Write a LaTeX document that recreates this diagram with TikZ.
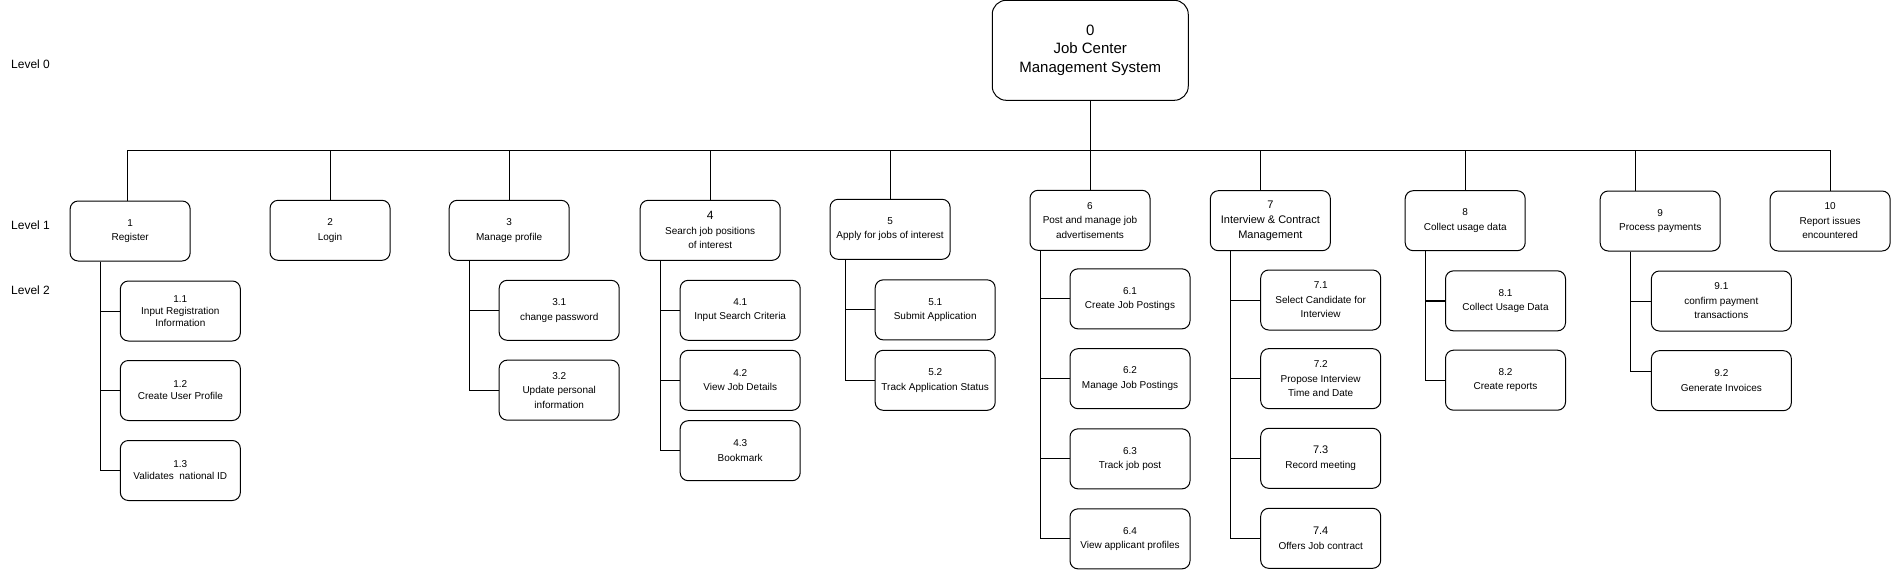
\documentclass[tikz,border=0pt]{standalone}
\usepackage{fontspec}
\setmainfont{Liberation Sans}
\begin{document}
\begin{tikzpicture}[x=1pt,y=-1pt,
  box/.style={draw=black, line width=1pt, rounded corners=8pt, minimum width=120pt, minimum height=60pt, align=center, inner sep=1pt, font=\fontsize{10}{14.5}\selectfont, text=black},
  wide/.style={minimum width=140pt},
  tight/.style={font=\fontsize{10}{12}\selectfont},
  link/.style={draw=black, line width=0.9pt},
  lvl/.style={anchor=west, inner sep=0pt, font=\fontsize{12}{14}\selectfont}]
\useasboundingbox (0,0) rectangle (1891,570);

% level labels
\node[lvl] (l0) at (11,64) {Level 0};
\node[lvl] (l1) at (11,225.7) {Level 1};
\node[lvl] (l2) at (11,290) {Level 2};

% root
\node[box, minimum width=196pt, minimum height=100pt, rounded corners=14pt, font=\fontsize{15}{18.3}\selectfont] (b0) at (1090.25,50.3) {0\\Job Center\\Management System};

% level 1
\node[box] (b1) at (130.15,231) {1\\Register};
\node[box] (b2) at (330.05,230.3) {2\\Login};
\node[box] (b3) at (509.2,230.3) {3\\Manage profile};
\node[box, wide] (b4) at (710.2,230.3) {{\fontsize{12}{14.5}\selectfont 4}\\Search job positions\\of interest};
\node[box] (b5) at (890.1,229.3) {5\\Apply for jobs of interest};
\node[box] (b6) at (1090,220.3) {6\\Post and manage job\\advertisements};
\node[box, font=\fontsize{11}{15}\selectfont] (b7) at (1270.35,220.7) {7\\Interview \& Contract\\Management};
\node[box] (b8) at (1465.2,220.7) {8\\Collect usage data};
\node[box] (b9) at (1660.2,221) {9\\Process payments};
\node[box] (b10) at (1830.1,221) {10\\Report issues\\encountered};

% level 2
\node[box, tight] (c11) at (180.35,311) {1.1\\Input Registration\\Information};
\node[box, tight] (c12) at (180.35,390.5) {1.2\\Create User Profile};
\node[box, tight] (c13) at (180.35,470.5) {1.3\\Validates\ \ national ID};

\node[box] (c31) at (559.2,310.3) {3.1\\change password};
\node[box] (c32) at (559.2,390.15) {3.2\\Update personal\\information};

\node[box] (c41) at (740.2,310.3) {4.1\\Input Search Criteria};
\node[box] (c42) at (740.2,380.3) {4.2\\View Job Details};
\node[box] (c43) at (740.2,450.7) {4.3\\Bookmark};

\node[box] (c51) at (935.2,309.85) {5.1\\Submit Application};
\node[box] (c52) at (935.2,380.3) {5.2\\Track Application Status};

\node[box] (c61) at (1130,298.85) {6.1\\Create Job Postings};
\node[box] (c62) at (1130,378.7) {6.2\\Manage Job Postings};
\node[box] (c63) at (1130,458.85) {6.3\\Track job post};
\node[box] (c64) at (1130,538.85) {6.4\\View applicant profiles};

\node[box] (c71) at (1320.7,300) {7.1\\Select Candidate for\\Interview};
\node[box] (c72) at (1320.7,378.65) {7.2\\Propose Interview\\Time and Date};
\node[box] (c73) at (1320.7,458.3) {{\fontsize{11}{14.5}\selectfont 7.3}\\Record meeting};
\node[box] (c74) at (1320.7,538.3) {{\fontsize{11}{14.5}\selectfont 7.4}\\Offers Job contract};

\node[box] (c81) at (1505.5,300.85) {8.1\\Collect Usage Data};
\node[box] (c82) at (1505.5,380.2) {8.2\\Create reports};

\node[box, wide] (c91) at (1721.35,301) {9.1\\confirm payment\\transactions};
\node[box, wide] (c92) at (1721.35,380.7) {9.2\\Generate Invoices};

% bus and drops
\coordinate (d1) at (127.3,150.3);
\coordinate (d2) at (330.05,150.3);
\coordinate (d3) at (509.2,150.3);
\coordinate (d4) at (710.2,150.3);
\coordinate (d5) at (890.1,150.3);
\coordinate (d6) at (1090,150.3);
\coordinate (d7) at (1260,150.3);
\coordinate (d8) at (1465.4,150.3);
\coordinate (d9) at (1635.5,150.3);
\coordinate (d10) at (1830.5,150.3);
\draw[link] (d1) -- (d10);
\draw[link] (b0.south) -- (b0.south |- d6);
\foreach \i in {1,...,10} {
  \draw[link] (d\i) -- (d\i |- b\i.north);
}

% trunks
\coordinate (t1) at (100.4,0);
\coordinate (t3) at (469.2,0);
\coordinate (t4) at (660.4,0);
\coordinate (t5) at (845.2,0);
\coordinate (t6) at (1040.2,0);
\coordinate (t7) at (1230.7,0);
\coordinate (t8) at (1425.8,0);
\coordinate (t9) at (1630.6,0);

\foreach \c in {c11,c12,c13} { \draw[link] (t1 |- b1.south) |- (\c.west); }
\foreach \c in {c31,c32} { \draw[link] (t3 |- b3.south) |- (\c.west); }
\foreach \c in {c41,c42,c43} { \draw[link] (t4 |- b4.south) |- (\c.west); }
\foreach \c in {c51,c52} { \draw[link] (t5 |- b5.south) |- (\c.west); }
\foreach \c in {c61,c62,c63,c64} { \draw[link] (t6 |- b6.south) |- (\c.west); }
\foreach \c in {c71,c72,c73,c74} { \draw[link] (t7 |- b7.south) |- (\c.west); }
\draw[link] (t8 |- b8.south) -- (t8 |- c82.west) -- (c82.west);
\draw[draw=black, line width=1.8pt] (t8 |- c81.west) -- (c81.west);
\draw[link] (t9 |- b9.south) |- (c91.west);
\draw[link] (t9 |- b9.south) |- ([yshift=9.5pt]c92.west);
\end{tikzpicture}
\end{document}
